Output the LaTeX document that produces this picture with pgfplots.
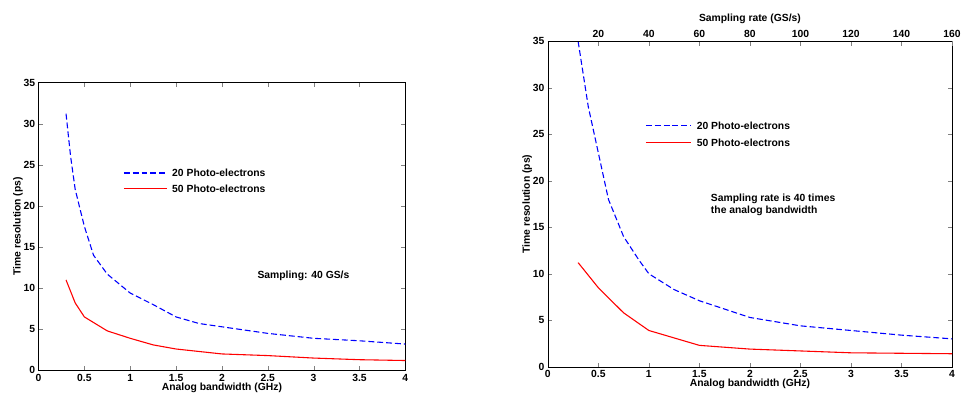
\documentclass[border=0pt]{standalone}
\usepackage{pgfplots}
\pgfplotsset{compat=1.18}
\usepackage{fontspec}
\setmainfont{Liberation Sans}
\tikzset{bl/.style={draw=blue,line width=1.1pt,dash pattern=on 6pt off 3pt},
  rd/.style={draw=red,line width=1.1pt}}
\begin{document}
\begin{tikzpicture}[x=1pt,y=1pt]
\path (0,0) rectangle (964,404);
\pgfplotsset{myax/.style={scale only axis,
  font=\bfseries\fontsize{10.5}{12}\selectfont,
  /pgf/number format/assume math mode=true,
  xmin=0,xmax=4,ymin=0,ymax=35,
  tick align=inside, ticklabel style={font=\bfseries\fontsize{10.5}{12}\selectfont},
  xtick={0,0.5,...,4}, ytick={0,5,...,35},
  xticklabels={0,0.5,1,1.5,2,2.5,3,3.5,4},
  xlabel={Analog bandwidth (GHz)}, ylabel={Time resolution (ps)},
  xlabel style={yshift=5pt}, ylabel style={yshift=-6pt}}}
\begin{axis}[myax,at={(42,34)},width=372,height=292]
\addplot[bl] coordinates {(0.3,31.2)(0.35,26)(0.4,22)(0.5,17.5)(0.6,14)(0.75,11.7)(1,9.4)(1.25,8)(1.5,6.5)(1.75,5.7)(2,5.3)(2.5,4.5)(3,3.9)(3.5,3.6)(4,3.2)};
\addplot[rd] coordinates {(0.3,11)(0.4,8.2)(0.5,6.5)(0.75,4.8)(1,3.9)(1.25,3.1)(1.5,2.6)(2,2.0)(2.5,1.8)(3,1.5)(3.5,1.3)(4,1.2)};
\draw[bl] (axis cs:0.93,24.0) -- (axis cs:1.40,24.0);
\draw[rd] (axis cs:0.93,22.1) -- (axis cs:1.40,22.1);
\node[anchor=west] at (axis cs:1.42,24.0) {20 Photo-electrons};
\node[anchor=west] at (axis cs:1.42,22.1) {50 Photo-electrons};
\node[anchor=west] at (axis cs:2.35,11.5) {Sampling: 40 GS/s};
\end{axis}
\begin{axis}[myax,at={(542,34)},width=410,height=330]
\addplot[bl] coordinates {(0.3,35)(0.4,28)(0.5,23)(0.6,18)(0.75,14)(0.9,11.5)(1,10)(1.25,8.3)(1.5,7.1)(2,5.3)(2.5,4.4)(3,3.9)(3.5,3.4)(4,3.0)};
\addplot[rd] coordinates {(0.3,11.2)(0.5,8.5)(0.75,5.8)(1,3.9)(1.5,2.3)(2,1.9)(2.5,1.7)(3,1.5)(3.5,1.45)(4,1.4)};
\draw[bl] (axis cs:0.97,25.9) -- (axis cs:1.42,25.9);
\draw[rd] (axis cs:0.97,24.1) -- (axis cs:1.42,24.1);
\node[anchor=west] at (axis cs:1.44,25.9) {20 Photo-electrons};
\node[anchor=west] at (axis cs:1.44,24.1) {50 Photo-electrons};
\node[anchor=west,align=left] at (axis cs:1.58,17.4) {Sampling rate is 40 times\\the analog bandwidth};
\end{axis}
\begin{axis}[myax,at={(542,34)},width=410,height=330,
  axis x line*=top, axis y line=none,
  xtick={0.5,1,...,4}, xticklabels={20,40,60,80,100,120,140,160},
  xlabel={Sampling rate (GS/s)}, xlabel style={yshift=-5pt}, ylabel={}]
\addplot[draw=none] coordinates {(0,0)};
\end{axis}
\end{tikzpicture}
\end{document}
